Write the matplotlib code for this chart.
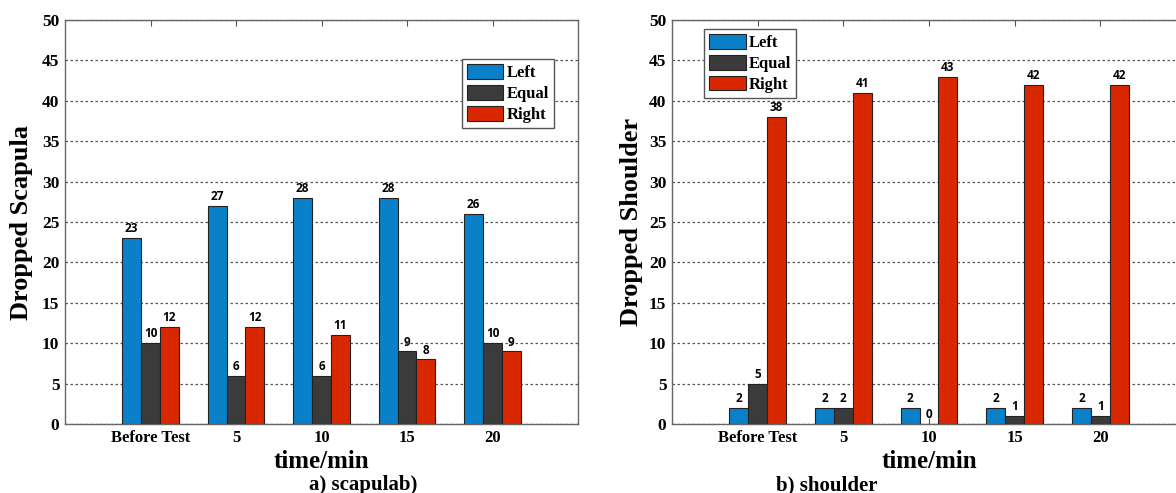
import numpy as np
import matplotlib.pyplot as plt

categories = ['Before Test', '5', '10', '15', '20']
series = ['Left', 'Equal', 'Right']
colors = ['#0a80c8', '#3b3b3b', '#d92800']

scapula_left = [23, 27, 28, 28, 26]
scapula_equal = [10, 6, 6, 9, 10]
scapula_right = [12, 12, 11, 8, 9]

shoulder_left = [2, 2, 2, 2, 2]
shoulder_equal = [5, 2, 0, 1, 1]
shoulder_right = [38, 41, 43, 42, 42]

yticks = [0, 5, 10, 15, 20, 25, 30, 35, 40, 45, 50]

serif = 'Liberation Serif'
fig = plt.figure(figsize=(11.76, 4.93), dpi=100)

ax1 = fig.add_axes([65 / 1176, 1 - 424 / 493, 513 / 1176, 404 / 493])
ax2 = fig.add_axes([672 / 1176, 1 - 424 / 493, 514 / 1176, 404 / 493])


def draw(ax, data, ylabel, leg_loc, leg_anchor, lab_x):
    x = np.arange(1, len(categories) + 1)
    w = 0.22
    for i, (vals, name, c) in enumerate(zip(data, series, colors)):
        bars = ax.bar(x + (i - 1) * w, vals, w, color=c, edgecolor='#222222',
                      linewidth=0.8, label=name, zorder=3)
        for b, v in zip(bars, vals):
            ax.annotate(str(v), (b.get_x() + b.get_width() / 2, v),
                        xytext=(0, 2), textcoords='offset points',
                        ha='center', va='bottom', fontsize=8.5,
                        fontweight='bold', family='Open Sans', zorder=4)
    ax.set_xlim(0, 6)
    ax.set_ylim(0, 50)
    ax.set_xticks(x)
    ax.set_xticklabels(categories)
    ax.set_yticks(yticks)
    ax.tick_params(axis='both', direction='in', top=True, length=4,
                   color='#555555', labelsize=12.5, pad=4)
    ax.tick_params(axis='x', labelsize=12)
    ax.tick_params(axis='y', left=False)
    for lab in ax.get_xticklabels() + ax.get_yticklabels():
        lab.set_fontfamily(serif)
        lab.set_fontweight('bold')
    ax.grid(axis='y', color='#555555', linestyle=(0, (2, 2)), linewidth=0.9, zorder=0)
    for s in ax.spines.values():
        s.set_color('#666666')
        s.set_linewidth(1.0)
    ax.set_ylabel(ylabel, fontsize=19, fontweight='bold', family=serif)
    ax.yaxis.set_label_coords(lab_x, 0.5)
    ax.set_xlabel('time/min', fontsize=18, fontweight='bold', family=serif, labelpad=3)
    leg = ax.legend(loc=leg_loc, bbox_to_anchor=leg_anchor, borderaxespad=0,
                    fancybox=False, framealpha=1, edgecolor='#555555',
                    prop={'family': serif, 'weight': 'bold', 'size': 12},
                    handlelength=2.2, handleheight=1.0, labelspacing=0.22,
                    handletextpad=0.2, borderpad=0.3)
    leg.get_frame().set_linewidth(1.0)
    leg.set_zorder(5)


draw(ax1, [scapula_left, scapula_equal, scapula_right], 'Dropped Scapula',
     'upper right', (0.953, 0.903), -0.062)
draw(ax2, [shoulder_left, shoulder_equal, shoulder_right], 'Dropped Shoulder',
     'upper left', (0.062, 0.978), -0.056)
ax2.spines['right'].set_visible(False)

fig.text(363 / 1176, 1 - 485 / 493, 'a) scapulab)', ha='center', va='center',
         fontsize=15, fontweight='bold', family=serif)
fig.text(827 / 1176, 1 - 485 / 493, 'b) shoulder', ha='center', va='center',
         fontsize=15, fontweight='bold', family=serif)

fig.savefig('out.png', dpi=100)
